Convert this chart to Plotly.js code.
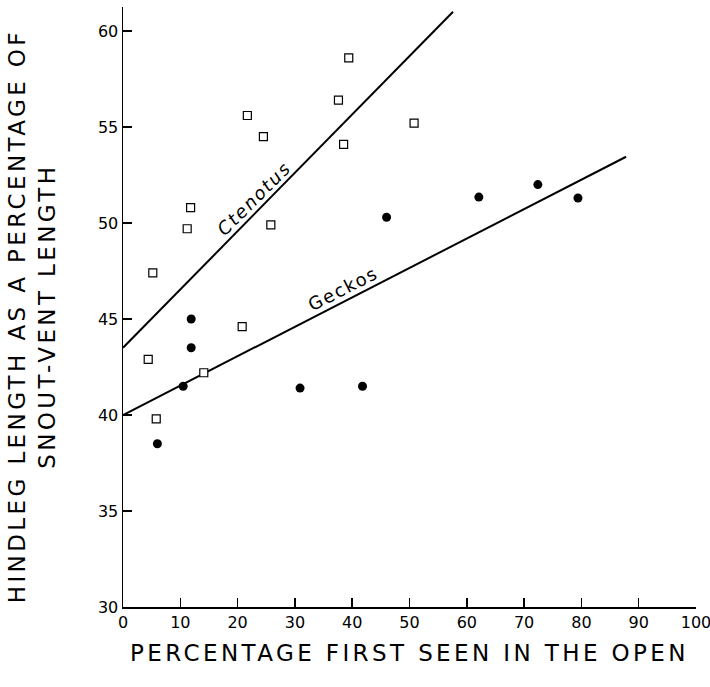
<!DOCTYPE html>
<html>
<head>
<meta charset="utf-8">
<script src="https://cdn.plot.ly/plotly-3.0.1.min.js"></script>
<style>
  html, body { margin: 0; padding: 0; background: #fff; }
  #chart { width: 710px; height: 687px; }
  .xtitle { letter-spacing: 3.4px; }
  .annotation-text { letter-spacing: 1.8px; }
  .annotation.ytitle-ann .annotation-text { letter-spacing: 3.4px; }
</style>
</head>
<body>
<div id="chart"></div>
<script>
// Ctenotus (open squares)
const ctenotusX = [4.4, 5.2, 5.8, 11.2, 11.8, 14.1, 20.8, 21.7, 24.5, 25.8, 37.6, 38.5, 39.4, 50.8];
const ctenotusY = [42.9, 47.4, 39.8, 49.7, 50.8, 42.2, 44.6, 55.6, 54.5, 49.9, 56.4, 54.1, 58.6, 55.2];
// Geckos (filled circles)
const geckoX = [6.0, 10.5, 11.9, 11.9, 30.9, 41.8, 46.0, 62.1, 72.4, 79.4];
const geckoY = [38.5, 41.5, 43.5, 45.0, 41.4, 41.5, 50.3, 51.35, 52.0, 51.3];
// Fitted lines (end points)
const ctenotusLineX = [0, 57.6];
const ctenotusLineY = [43.5, 61.0];
const geckoLineX = [0, 87.8];
const geckoLineY = [40.0, 53.45];
// Axis ticks
const xTicks = [0, 10, 20, 30, 40, 50, 60, 70, 80, 90, 100];
const yTicks = [30, 35, 40, 45, 50, 55, 60];

const FONT = 'DejaVu Sans, sans-serif';

const traces = [
  { x: ctenotusLineX, y: ctenotusLineY, mode: 'lines', line: { color: '#000', width: 2 }, hoverinfo: 'skip' },
  { x: geckoLineX, y: geckoLineY, mode: 'lines', line: { color: '#000', width: 2 }, hoverinfo: 'skip' },
  { x: ctenotusX, y: ctenotusY, mode: 'markers', name: 'Ctenotus',
    marker: { symbol: 'square', size: 8, color: '#fff', line: { color: '#000', width: 1.2 } } },
  { x: geckoX, y: geckoY, mode: 'markers', name: 'Geckos',
    marker: { symbol: 'circle', size: 9, color: '#000', line: { width: 0 } } }
];

const layout = {
  width: 710, height: 687,
  margin: { l: 123, r: 14, t: 7, b: 80 },
  paper_bgcolor: '#fff', plot_bgcolor: '#fff',
  showlegend: false,
  font: { family: FONT, color: '#000' },
  xaxis: {
    range: [0, 100], tickvals: xTicks, ticktext: xTicks.map(String),
    ticks: 'inside', ticklen: 9, tickwidth: 1.5, tickcolor: '#000',
    ticklabeloverflow: 'allow',
    showline: true, linecolor: '#000', linewidth: 1.5,
    showgrid: false, zeroline: false,
    tickfont: { family: FONT, size: 16, color: '#000' },
    title: { text: 'PERCENTAGE FIRST SEEN IN THE OPEN', font: { family: FONT, size: 23, color: '#000' }, standoff: 14 }
  },
  yaxis: {
    range: [30, 61.25], tickvals: yTicks, ticktext: yTicks.map(String),
    ticks: 'inside', ticklen: 9, tickwidth: 1.5, tickcolor: '#000',
    showline: true, linecolor: '#000', linewidth: 1.5,
    showgrid: false, zeroline: false,
    tickfont: { family: FONT, size: 16, color: '#000' }
  },
  annotations: [
    { x: -0.159, y: 0.485, xref: 'paper', yref: 'paper', xanchor: 'center', yanchor: 'middle',
      text: 'HINDLEG LENGTH AS A PERCENTAGE OF<br>SNOUT-VENT LENGTH', showarrow: false, textangle: -90,
      font: { family: FONT, size: 23, color: '#000' }, name: 'ytitle' },
    { x: 22.8, y: 51.3, xref: 'x', yref: 'y', text: 'Ctenotus', showarrow: false, textangle: -45,
      font: { family: FONT, size: 18, color: '#000', style: 'italic' } },
    { x: 38.4, y: 46.6, xref: 'x', yref: 'y', text: 'Geckos', showarrow: false, textangle: -27,
      font: { family: FONT, size: 18, color: '#000' } }
  ]
};

Plotly.newPlot('chart', traces, layout, { displayModeBar: false, staticPlot: true }).then(function () {
  const ann = document.querySelectorAll('.annotation')[0];
  if (ann) ann.classList.add('ytitle-ann');
});
</script>
</body>
</html>
